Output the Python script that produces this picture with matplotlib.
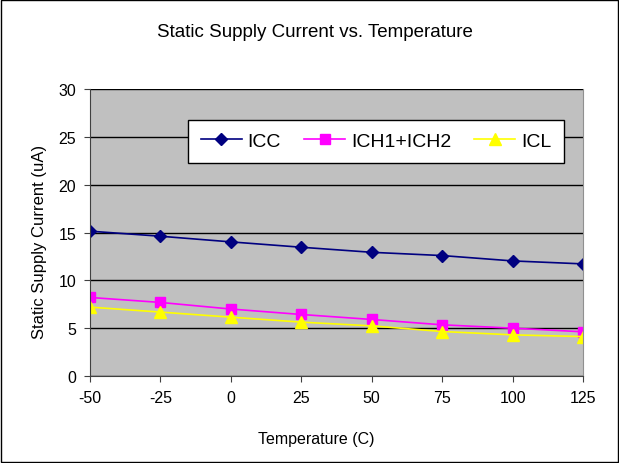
import numpy as np
import matplotlib.pyplot as plt
from matplotlib.patches import Rectangle

plt.rcParams['font.family'] = ['Liberation Sans', 'DejaVu Sans']
plt.rcParams['axes.unicode_minus'] = False

temps = [-50, -25, 0, 25, 50, 75, 100, 125]
icc = [15.14, 14.61, 14.02, 13.46, 12.93, 12.59, 12.03, 11.72]
ich = [8.21, 7.69, 7.0, 6.43, 5.91, 5.35, 5.0, 4.62]
icl = [7.2, 6.68, 6.15, 5.63, 5.24, 4.65, 4.3, 4.12]

fig = plt.figure(figsize=(6.19, 4.64), dpi=100)
fig.patches.append(Rectangle((0.002, 0.002), 0.996, 0.995, transform=fig.transFigure,
                             fill=False, edgecolor='black', linewidth=1))
ax = fig.add_axes([0.1454, 0.1875, 0.7965, 0.6185])
ax.set_facecolor('#C0C0C0')

ax.plot(temps, icc, color='#000080', marker='D', markersize=6, linewidth=1.2, label='ICC')
ax.plot(temps, ich, color='#FF00FF', marker='s', markersize=7, linewidth=1.2, label='ICH1+ICH2')
ax.plot(temps, icl, color='#FFFF00', marker='^', markersize=8, linewidth=1.2, label='ICL')

ax.set_xlim(-50, 125)
ax.set_ylim(0, 30)
ax.set_xticks(temps)
ax.set_yticks(range(0, 31, 5))
ax.yaxis.grid(True, color='black', linewidth=1)
ax.set_axisbelow(True)
ax.tick_params(direction='out', length=4, labelsize=11.5, color='#404040', pad=6)
for s in ['left', 'bottom']:
    ax.spines[s].set_color('#404040')
ax.spines['right'].set_color('#909090')
ax.spines['top'].set_visible(False)

leg = ax.legend(ncol=3, loc='upper left', bbox_to_anchor=(0.199, 0.892), fontsize=14,
                frameon=True, fancybox=False, edgecolor='black', framealpha=1,
                handlelength=2.1, columnspacing=1.2, handletextpad=0.3, borderpad=0.65,
                borderaxespad=0)
leg.get_frame().set_linewidth(1)

fig.text(0.509, 0.931, 'Static Supply Current vs. Temperature', ha='center', va='center', fontsize=13.5)
fig.text(0.511, 0.052, 'Temperature (C)', ha='center', va='center', fontsize=11.5)
fig.text(0.0646, 0.478, 'Static Supply Current (uA)', ha='center', va='center', rotation=90, fontsize=12)

fig.savefig('out.png', dpi=100)
